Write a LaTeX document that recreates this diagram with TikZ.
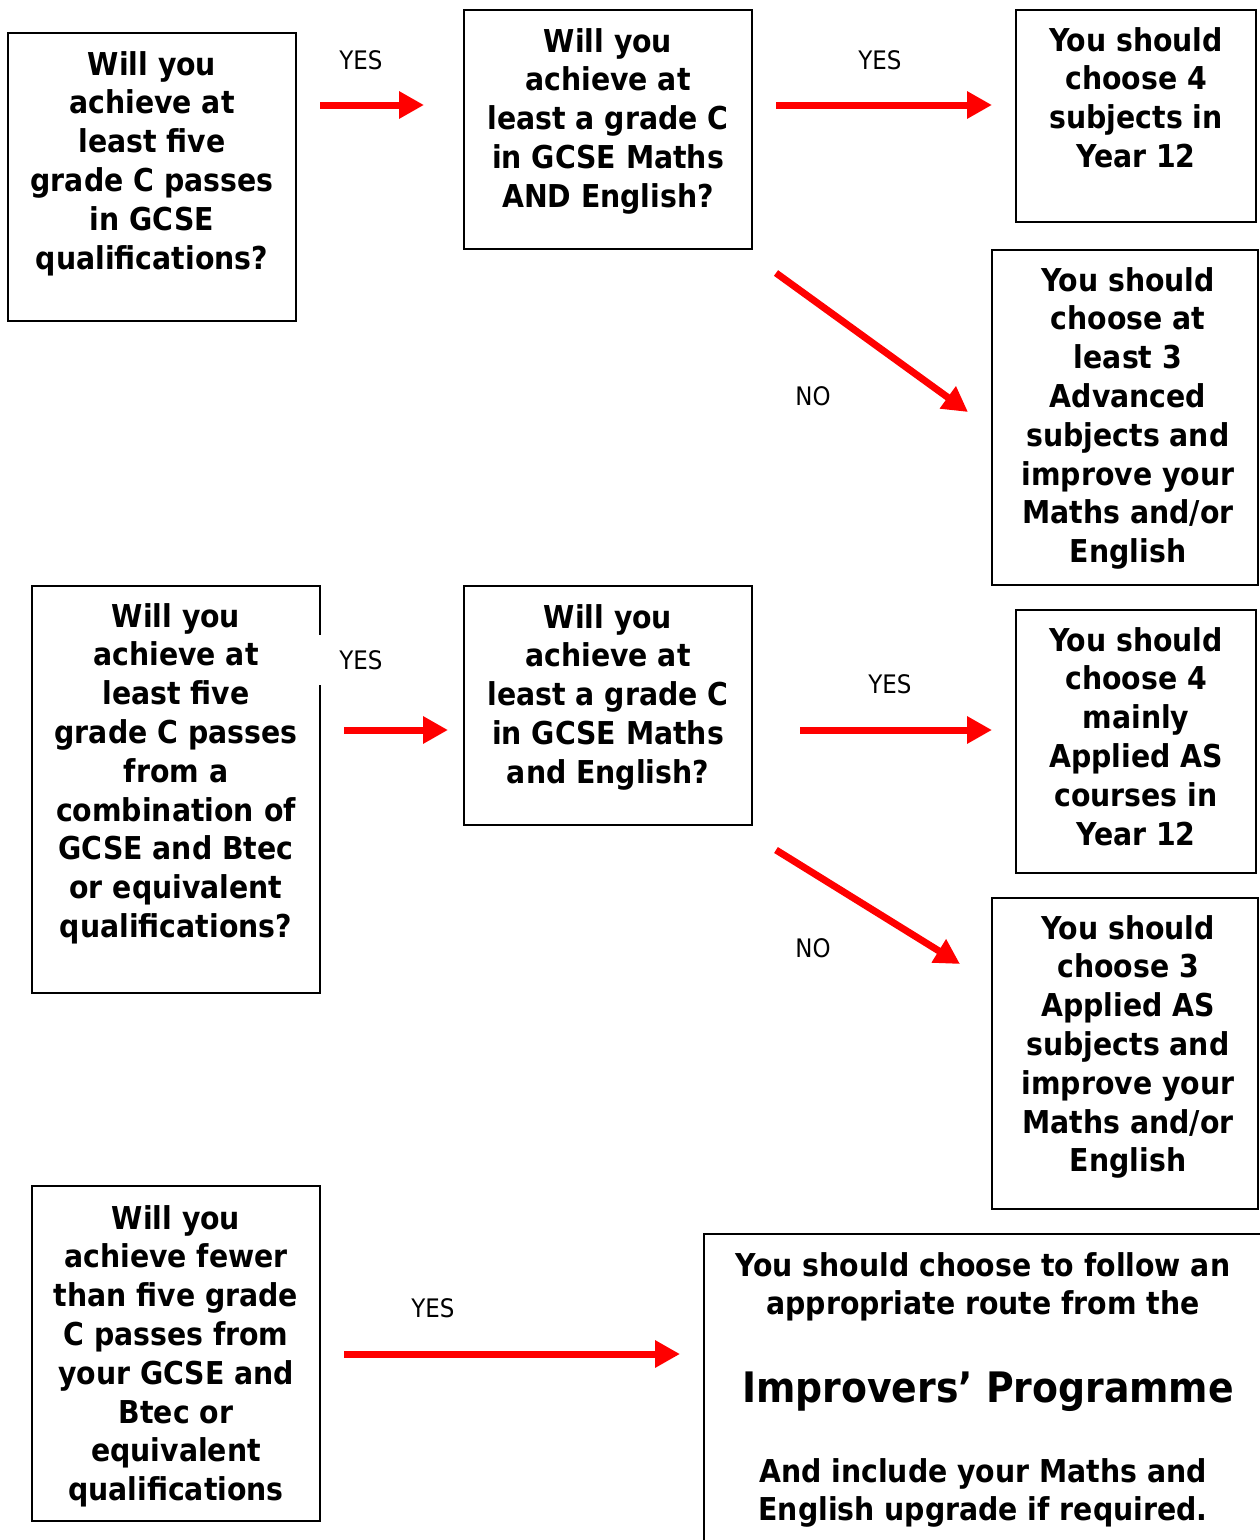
\documentclass[tikz,border=0pt]{standalone}
\usepackage{fontspec}
\setmainfont{DejaVu Sans Condensed}
\usetikzlibrary{arrows.meta}
\begin{document}
\begin{tikzpicture}[x=1pt,y=-1pt,
  box/.style={draw=black, line width=2pt},
  txt/.style={font=\bfseries\fontsize{31.5}{38.8}\selectfont, align=center, anchor=north, inner sep=0pt},
  lbl/.style={font=\fontsize{25.5}{30}\selectfont, inner sep=0pt},
  arr/.style={draw=red, line width=7pt, -{Triangle[length=25pt, width=26pt]}}]
\useasboundingbox[fill=white] (0,0) rectangle (1259,1540);
% boxes
\draw[box] (8,33) rectangle (296,321);
\draw[box] (464,10) rectangle (752,249);
\draw[box] (1016,10) rectangle (1256,222);
\draw[box] (992,250) rectangle (1258,585);
\draw[box] (32,586) rectangle (320,993);
\draw[box] (464,586) rectangle (752,825);
\draw[box] (1016,610) rectangle (1256,873);
\draw[box] (992,898) rectangle (1258,1209);
\draw[box] (32,1186) rectangle (320,1521);
\draw[box] (704,1234) rectangle (1280,1560);
% texts
\node[txt] (ta) at (152,51) {Will you\\achieve at\\least five\\grade C passes\\in GCSE\\qualifications?};
\node[txt] (tb) at (608,28) {Will you\\achieve at\\least a grade C\\in GCSE Maths\\AND English?};
\node[txt] (tc) at (1136,27) {You should\\choose 4\\subjects in\\Year 12};
\node[txt] (td) at (1128,267) {You should\\choose at\\least 3\\Advanced\\subjects and\\improve your\\Maths and/or\\English};
\node[txt] (te) at (176,603) {Will you\\achieve at\\least five\\grade C passes\\from a\\combination of\\GCSE and Btec\\or equivalent\\qualifications?};
\node[txt] (tf) at (608,604) {Will you\\achieve at\\least a grade C\\in GCSE Maths\\and English?};
\node[txt] (tg) at (1136,627) {You should\\choose 4\\mainly\\Applied AS\\courses in\\Year 12};
\node[txt] (th) at (1128,915) {You should\\choose 3\\Applied AS\\subjects and\\improve your\\Maths and/or\\English};
\node[txt] (ti) at (176,1205) {Will you\\achieve fewer\\than five grade\\C passes from\\your GCSE and\\Btec or\\equivalent\\qualifications};
\node[txt] (tj1) at (983,1252) {You should choose to follow an\\appropriate route from the};
\node[txt, anchor=base, font=\bfseries\fontsize{42}{48}\selectfont] (tj2) at (988,1402) {Improvers’ Programme};
\node[txt] (tj3) at (983,1458) {And include your Maths and\\English upgrade if required.};
% arrow end points
\coordinate (a1) at (320,105); \coordinate (b1) at (424,105);
\coordinate (a2) at (776,105); \coordinate (b2) at (992,105);
\coordinate (a3) at (776,273); \coordinate (b3) at (968,412);
\coordinate (a4) at (344,730); \coordinate (b4) at (448,730);
\coordinate (a5) at (800,730); \coordinate (b5) at (992,730);
\coordinate (a6) at (776,850); \coordinate (b6) at (960,964);
\coordinate (a7) at (344,1354); \coordinate (b7) at (680,1354);
\foreach \i in {1,...,7} \draw[arr] (a\i) -- (b\i);
% labels
\node[lbl] (l1) at (361,60) {YES};
\node[lbl] (l2) at (880,60) {YES};
\node[lbl] (l3) at (813,396) {NO};
\node[lbl, fill=white, minimum width=88pt, minimum height=50pt] (l4) at (361,660) {YES};
\node[lbl] (l5) at (890,684) {YES};
\node[lbl] (l6) at (813,948) {NO};
\node[lbl] (l7) at (433,1308) {YES};
\end{tikzpicture}
\end{document}
